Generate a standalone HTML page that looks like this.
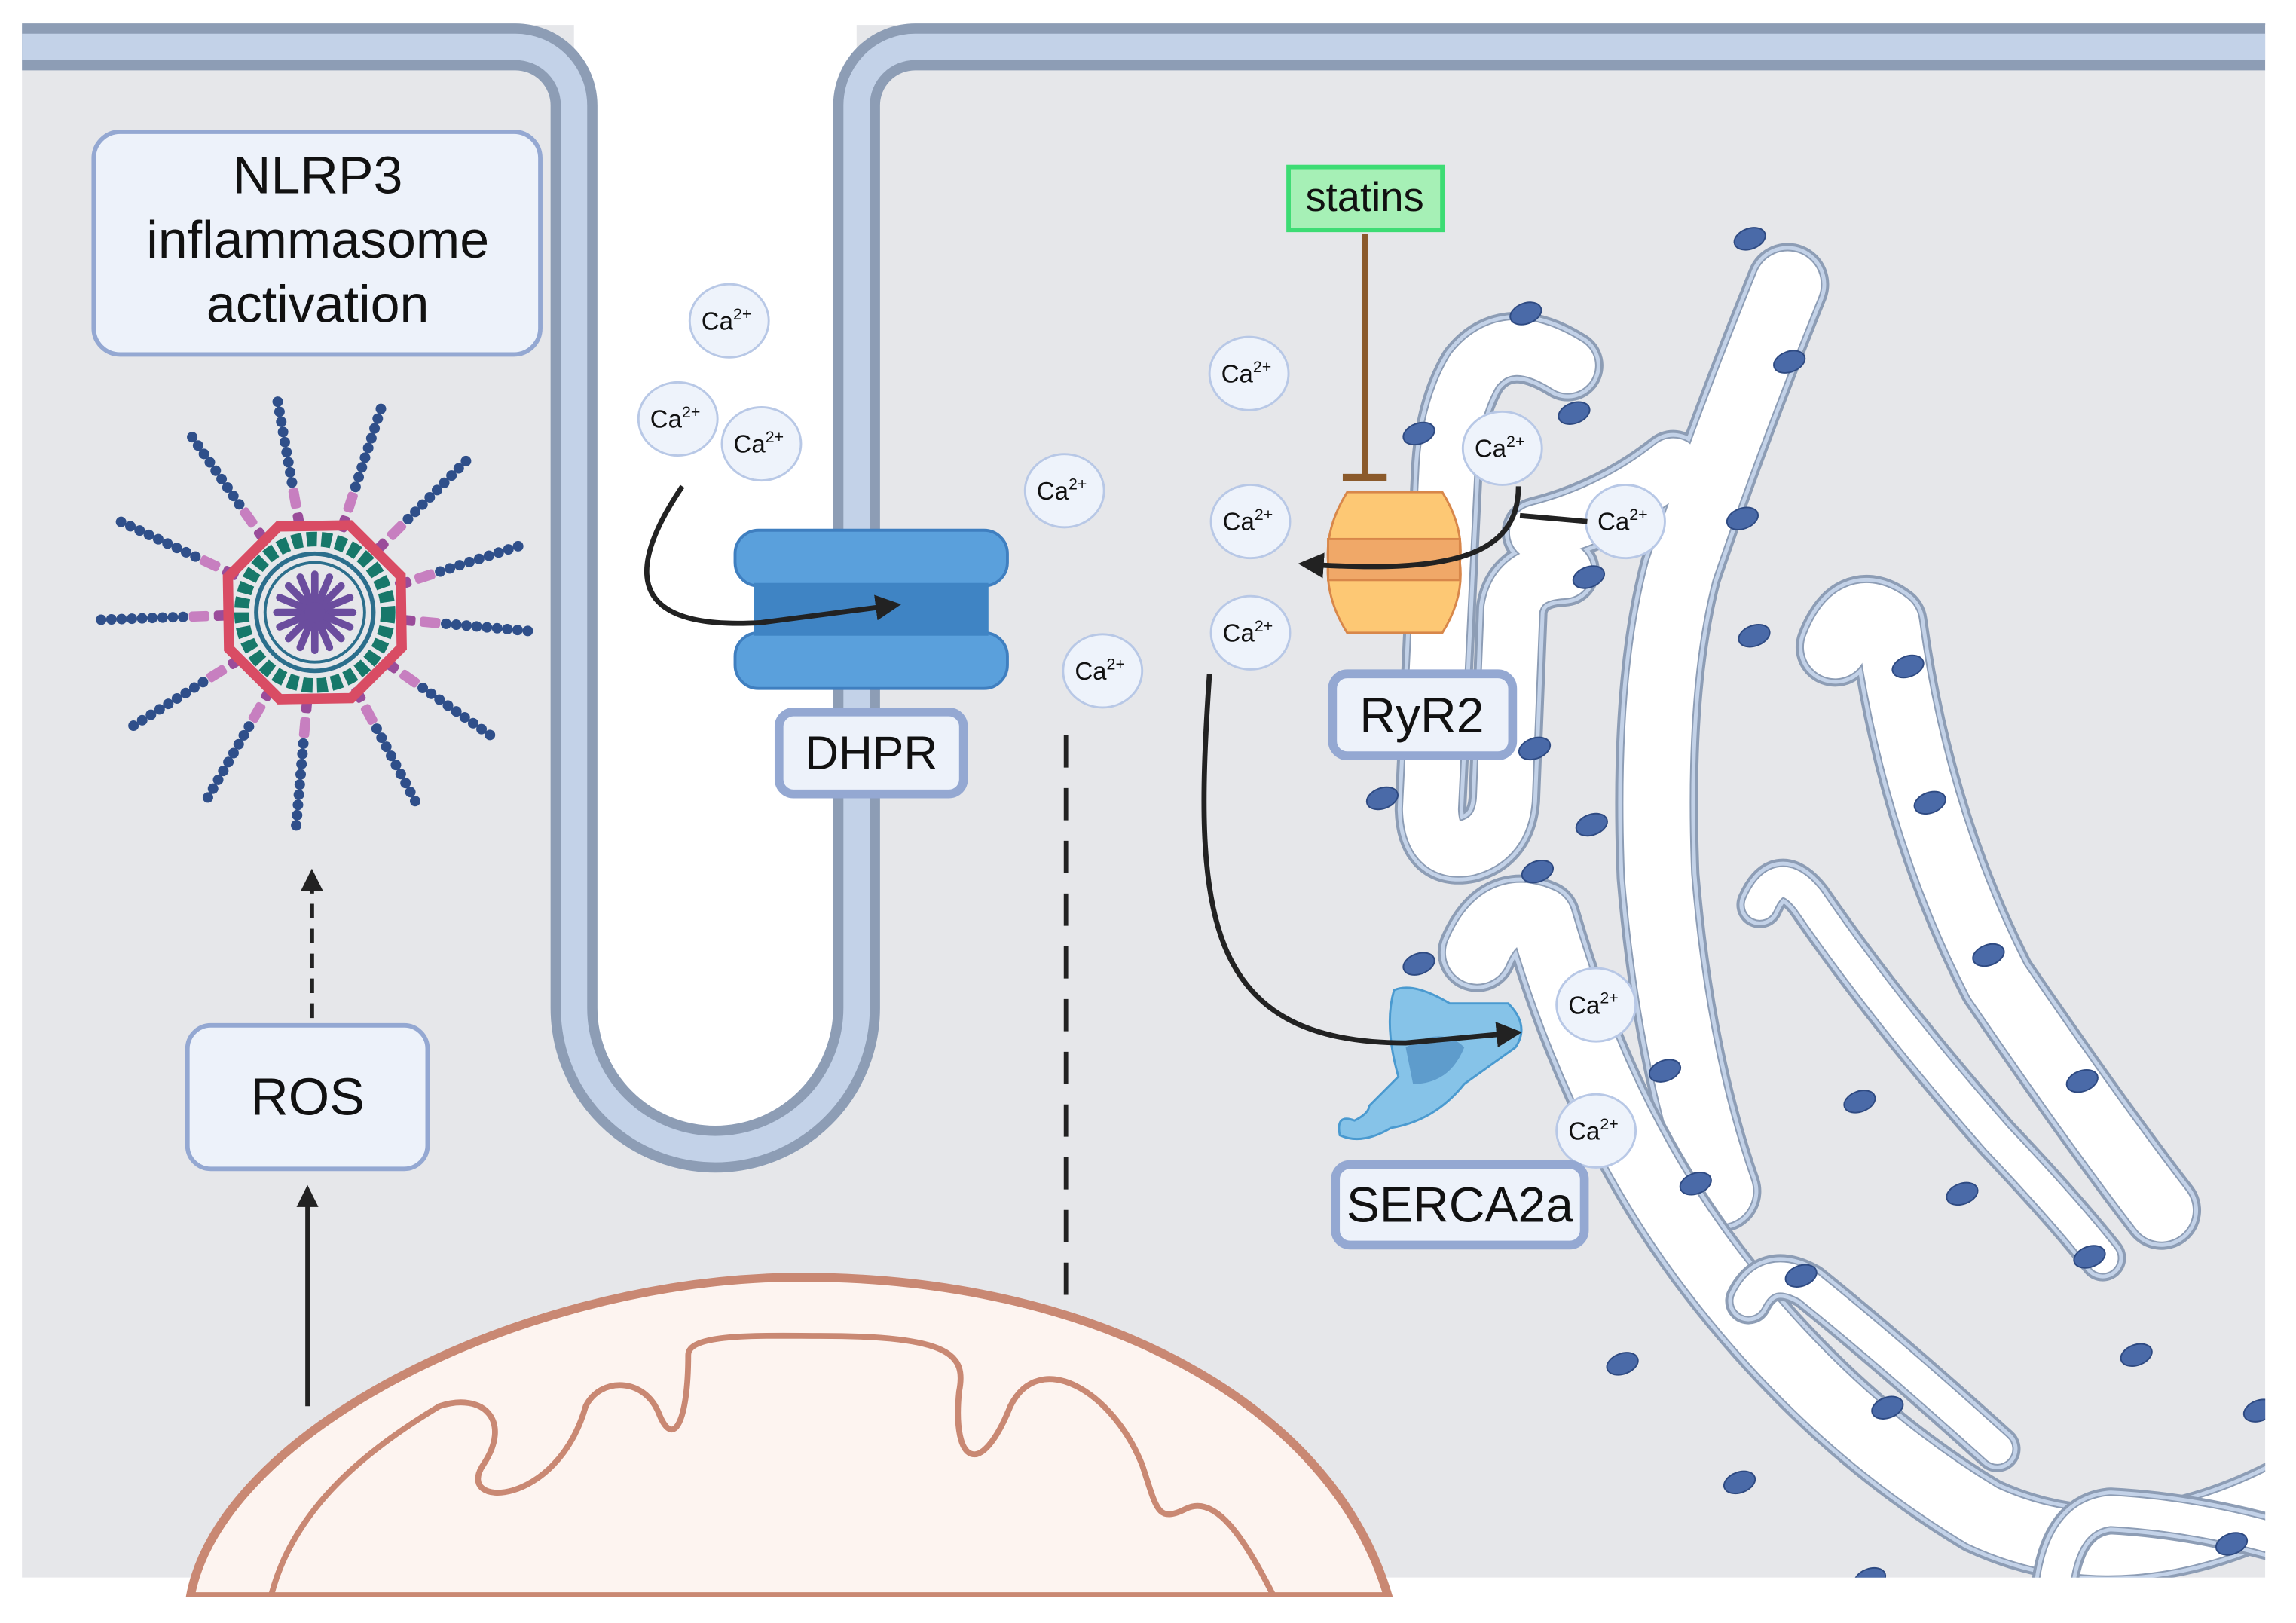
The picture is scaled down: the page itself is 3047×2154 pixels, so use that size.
<!DOCTYPE html>
<html><head><meta charset="utf-8"><style>
html,body{margin:0;padding:0;background:#fff}
svg{display:block}
text{font-family:"Liberation Sans",sans-serif;fill:#111}
</style></head><body>
<svg width="3047" height="2154" viewBox="0 0 1568 1108" preserveAspectRatio="none" xmlns="http://www.w3.org/2000/svg">
<defs>
<marker id="ah" viewBox="0 0 10 10" refX="8" refY="5" markerWidth="5" markerHeight="5" orient="auto-start-reverse"><path d="M0,0L10,5L0,10z" fill="#222"/></marker>
<path id="t1" vector-effect="non-scaling-stroke" d="M580,225 Q500,185 455,230 Q425,270 420,330 L398,690 Q400,738 448,730 Q492,720 496,680 L506,480 Q514,442 575,440"/>
<path id="t2" vector-effect="non-scaling-stroke" d="M872,140 Q790,300 730,440 Q690,560 700,760 Q720,950 782,1090"/>
<path id="t10" vector-effect="non-scaling-stroke" d="M540,400 Q640,380 720,330"/>
<path id="t3" vector-effect="non-scaling-stroke" d="M935,520 Q960,468 1005,495 Q1040,700 1150,870 Q1280,1020 1368,1110"/>
<path id="t5" vector-effect="non-scaling-stroke" d="M460,840 Q490,785 545,805 Q620,1010 760,1160 Q920,1330 1130,1430 Q1320,1500 1545,1405"/>
<path id="t6" vector-effect="non-scaling-stroke" d="M835,790 Q860,745 900,785 Q1000,900 1150,1035 Q1240,1110 1290,1160"/>
<path id="t7" vector-effect="non-scaling-stroke" d="M820,1205 Q845,1165 900,1190 Q1010,1260 1150,1360"/>
<path id="t8" vector-effect="non-scaling-stroke" d="M1225,1510 Q1235,1430 1300,1425 Q1420,1430 1545,1460"/>
<g id="spoke">
<rect x="72" y="-3.5" width="14" height="7" rx="2" fill="#c77fc0"/>
<rect x="58" y="-3.5" width="11" height="7" rx="2" fill="#9a4c9a"/>
<g fill="#2f4f8a"><circle cx="90" cy="0" r="3.6"/><circle cx="97" cy="0" r="3.6"/><circle cx="104" cy="0" r="3.6"/><circle cx="111" cy="0" r="3.6"/><circle cx="118" cy="0" r="3.6"/><circle cx="125" cy="0" r="3.6"/><circle cx="132" cy="0" r="3.6"/><circle cx="139" cy="0" r="3.6"/><circle cx="146" cy="0" r="3.6"/></g>
</g>
</defs>
<rect width="1568" height="1108" fill="#fff"/>
<rect x="15" y="17" width="1532" height="1060" fill="#e6e7ea"/>
<rect x="0" y="0" width="1568" height="17" fill="#fff"/>
<path d="M392,0 V688 A96.5,96.5 0 0 0 585,688 V0 Z" fill="#fff"/>
<path d="M15,32 H352 A40,40 0 0 1 392,72 V688 A96.5,96.5 0 0 0 585,688 V72 A40,40 0 0 1 625,32 H1547" fill="none" stroke="#8d9db5" stroke-width="32"/>
<path d="M15,32 H352 A40,40 0 0 1 392,72 V688 A96.5,96.5 0 0 0 585,688 V72 A40,40 0 0 1 625,32 H1547" fill="none" stroke="#c3d2e8" stroke-width="18"/>

<!-- SR -->
<g transform="scale(0.5147) translate(1500,200) scale(1,1.266)" fill="none" stroke-linecap="round" stroke-linejoin="round">
<g stroke="#8d9db5" stroke-width="95"><use href="#t1"/><use href="#t10"/></g>
<g stroke="#8d9db5" stroke-width="110"><use href="#t2"/></g>
<g stroke="#c3d2e8" stroke-width="87"><use href="#t1"/><use href="#t10"/></g>
<g stroke="#c3d2e8" stroke-width="102"><use href="#t2"/></g>
<g stroke="#8d9db5" stroke-width="77"><use href="#t1"/><use href="#t10"/></g>
<g stroke="#8d9db5" stroke-width="92"><use href="#t2"/></g>
<g stroke="#fff" stroke-width="73"><use href="#t1"/><use href="#t10"/></g>
<g stroke="#fff" stroke-width="88"><use href="#t2"/></g>
<g stroke="#8d9db5" stroke-width="105"><use href="#t3"/><use href="#t5"/></g>
<g stroke="#c3d2e8" stroke-width="97"><use href="#t3"/><use href="#t5"/></g>
<g stroke="#8d9db5" stroke-width="87"><use href="#t3"/><use href="#t5"/></g>
<g stroke="#fff" stroke-width="83"><use href="#t3"/><use href="#t5"/></g>
<g stroke="#8d9db5" stroke-width="62"><use href="#t6"/><use href="#t7"/><use href="#t8"/></g>
<g stroke="#c3d2e8" stroke-width="54"><use href="#t6"/><use href="#t7"/><use href="#t8"/></g>
<g stroke="#8d9db5" stroke-width="44"><use href="#t6"/><use href="#t7"/><use href="#t8"/></g>
<g stroke="#fff" stroke-width="40"><use href="#t6"/><use href="#t7"/><use href="#t8"/></g>
</g>
<g fill="#4a6aa8" stroke="#2e4a82" stroke-width="1">
<ellipse cx="1195" cy="163" rx="11" ry="7" transform="rotate(-20 1195 163)"/><ellipse cx="1042" cy="214" rx="11" ry="7" transform="rotate(-20 1042 214)"/><ellipse cx="1222" cy="247" rx="11" ry="7" transform="rotate(-20 1222 247)"/><ellipse cx="969" cy="296" rx="11" ry="7" transform="rotate(-20 969 296)"/><ellipse cx="1075" cy="282" rx="11" ry="7" transform="rotate(-20 1075 282)"/><ellipse cx="1190" cy="354" rx="11" ry="7" transform="rotate(-20 1190 354)"/><ellipse cx="1085" cy="394" rx="11" ry="7" transform="rotate(-20 1085 394)"/><ellipse cx="1198" cy="434" rx="11" ry="7" transform="rotate(-20 1198 434)"/><ellipse cx="1303" cy="455" rx="11" ry="7" transform="rotate(-20 1303 455)"/><ellipse cx="1048" cy="511" rx="11" ry="7" transform="rotate(-20 1048 511)"/><ellipse cx="944" cy="545" rx="11" ry="7" transform="rotate(-20 944 545)"/><ellipse cx="1087" cy="563" rx="11" ry="7" transform="rotate(-20 1087 563)"/><ellipse cx="1318" cy="548" rx="11" ry="7" transform="rotate(-20 1318 548)"/><ellipse cx="1050" cy="595" rx="11" ry="7" transform="rotate(-20 1050 595)"/><ellipse cx="969" cy="658" rx="11" ry="7" transform="rotate(-20 969 658)"/><ellipse cx="1358" cy="652" rx="11" ry="7" transform="rotate(-20 1358 652)"/><ellipse cx="1137" cy="731" rx="11" ry="7" transform="rotate(-20 1137 731)"/><ellipse cx="1270" cy="752" rx="11" ry="7" transform="rotate(-20 1270 752)"/><ellipse cx="1422" cy="738" rx="11" ry="7" transform="rotate(-20 1422 738)"/><ellipse cx="1158" cy="808" rx="11" ry="7" transform="rotate(-20 1158 808)"/><ellipse cx="1340" cy="815" rx="11" ry="7" transform="rotate(-20 1340 815)"/><ellipse cx="1427" cy="858" rx="11" ry="7" transform="rotate(-20 1427 858)"/><ellipse cx="1230" cy="871" rx="11" ry="7" transform="rotate(-20 1230 871)"/><ellipse cx="1459" cy="925" rx="11" ry="7" transform="rotate(-20 1459 925)"/><ellipse cx="1108" cy="931" rx="11" ry="7" transform="rotate(-20 1108 931)"/><ellipse cx="1289" cy="961" rx="11" ry="7" transform="rotate(-20 1289 961)"/><ellipse cx="1543" cy="963" rx="11" ry="7" transform="rotate(-20 1543 963)"/><ellipse cx="1188" cy="1012" rx="11" ry="7" transform="rotate(-20 1188 1012)"/><ellipse cx="1277" cy="1078" rx="11" ry="7" transform="rotate(-20 1277 1078)"/><ellipse cx="1524" cy="1054" rx="11" ry="7" transform="rotate(-20 1524 1054)"/>
</g>
<rect x="1547" y="17" width="21" height="1091" fill="#fff"/>
<rect x="0" y="1077" width="1568" height="31" fill="#fff"/>

<!-- mitochondrion -->
<path d="M130,1090 C150,980 350,875 540,872 C750,870 910,960 948,1090 Z" fill="#fdf4f0" stroke="#c98873" stroke-width="6"/>
<path d="M185,1090 C200,1030 250,990 300,960 C330,950 350,970 330,1000 C310,1030 380,1030 400,960 C410,940 440,940 450,965 C460,990 470,970 470,925 C470,910 520,912 560,912 C650,912 660,925 655,950 C650,1000 670,1010 690,960 C710,920 760,950 780,1000 C790,1030 790,1040 810,1030 C830,1020 850,1050 870,1090" fill="none" stroke="#c98873" stroke-width="4"/>
<rect x="0" y="1090" width="1568" height="18" fill="#fff"/>

<!-- NLRP3 box -->
<rect x="64" y="90" width="305" height="152" rx="18" fill="#edf2fa" stroke="#94a8d2" stroke-width="3"/>
<text x="217" y="132" font-size="36" text-anchor="middle">NLRP3</text>
<text x="217" y="176" font-size="36" text-anchor="middle">inflammasome</text>
<text x="217" y="220" font-size="36" text-anchor="middle">activation</text>

<!-- inflammasome -->
<g transform="translate(215,418)">
<use href="#spoke" transform="rotate(-100)"/><use href="#spoke" transform="rotate(-72)"/><use href="#spoke" transform="rotate(-45)"/><use href="#spoke" transform="rotate(-18)"/><use href="#spoke" transform="rotate(5)"/><use href="#spoke" transform="rotate(35)"/><use href="#spoke" transform="rotate(62)"/><use href="#spoke" transform="rotate(95)"/><use href="#spoke" transform="rotate(120)"/><use href="#spoke" transform="rotate(148)"/><use href="#spoke" transform="rotate(178)"/><use href="#spoke" transform="rotate(205)"/><use href="#spoke" transform="rotate(235)"/>
<polygon points="64,0 45,45 0,64 -45,45 -64,0 -45,-45 0,-64 45,-45" fill="none" stroke="#d94c64" stroke-width="7" transform="rotate(22)"/>
<circle r="50" fill="none" stroke="#17786a" stroke-width="10" stroke-dasharray="7 3"/>
<circle r="40" fill="#e6e7ea" stroke="#2b6e8c" stroke-width="3"/>
<circle r="34" fill="none" stroke="#2b6e8c" stroke-width="2"/>
<g stroke="#6b4d9e" stroke-width="5" stroke-linecap="round">
<line x1="0" y1="-26" x2="0" y2="26"/><line x1="-26" y1="0" x2="26" y2="0"/><line x1="-18" y1="-18" x2="18" y2="18"/><line x1="-18" y1="18" x2="18" y2="-18"/><line x1="-10" y1="-24" x2="10" y2="24"/><line x1="-24" y1="-10" x2="24" y2="10"/><line x1="-24" y1="10" x2="24" y2="-10"/><line x1="-10" y1="24" x2="10" y2="-24"/>
</g>
<circle r="7" fill="#6b4d9e"/>
</g>

<!-- ROS -->
<line x1="213" y1="695" x2="213" y2="596" stroke="#222" stroke-width="3" stroke-dasharray="10 7" marker-end="url(#ah)"/>
<rect x="128" y="700" width="164" height="98" rx="16" fill="#edf2fa" stroke="#94a8d2" stroke-width="3"/>
<text x="210" y="761" font-size="36" text-anchor="middle">ROS</text>
<line x1="210" y1="960" x2="210" y2="812" stroke="#222" stroke-width="3" marker-end="url(#ah)"/>

<!-- DHPR -->
<rect x="515" y="385" width="160" height="60" fill="#3f84c4"/>
<rect x="502" y="362" width="186" height="38" rx="16" fill="#5aa0dc" stroke="#3f7fc0" stroke-width="2"/>
<rect x="502" y="432" width="186" height="38" rx="16" fill="#5aa0dc" stroke="#3f7fc0" stroke-width="2"/>
<rect x="515" y="398" width="160" height="36" fill="#3f84c4"/>
<path d="M466,332 C420,400 440,430 520,425 L612,413" fill="none" stroke="#222" stroke-width="3.5" marker-end="url(#ah)"/>
<rect x="532" y="486" width="126" height="56" rx="10" fill="#edf2fa" stroke="#94a8d2" stroke-width="6"/>
<text x="595" y="525" font-size="32" text-anchor="middle">DHPR</text>
<line x1="728" y1="502" x2="728" y2="895" stroke="#222" stroke-width="3" stroke-dasharray="22 14"/>

<!-- Ca ions -->
<g font-size="17">
<g><ellipse cx="498" cy="219" rx="27" ry="25" fill="#eef3fb" stroke="#b8c8e6" stroke-width="1.5"/><text x="479" y="225">Ca<tspan font-size="11" dy="-7">2+</tspan></text></g>
<g><ellipse cx="463" cy="286" rx="27" ry="25" fill="#eef3fb" stroke="#b8c8e6" stroke-width="1.5"/><text x="444" y="292">Ca<tspan font-size="11" dy="-7">2+</tspan></text></g>
<g><ellipse cx="520" cy="303" rx="27" ry="25" fill="#eef3fb" stroke="#b8c8e6" stroke-width="1.5"/><text x="501" y="309">Ca<tspan font-size="11" dy="-7">2+</tspan></text></g>
<g><ellipse cx="727" cy="335" rx="27" ry="25" fill="#eef3fb" stroke="#b8c8e6" stroke-width="1.5"/><text x="708" y="341">Ca<tspan font-size="11" dy="-7">2+</tspan></text></g>
<g><ellipse cx="753" cy="458" rx="27" ry="25" fill="#eef3fb" stroke="#b8c8e6" stroke-width="1.5"/><text x="734" y="464">Ca<tspan font-size="11" dy="-7">2+</tspan></text></g>
<g><ellipse cx="853" cy="255" rx="27" ry="25" fill="#eef3fb" stroke="#b8c8e6" stroke-width="1.5"/><text x="834" y="261">Ca<tspan font-size="11" dy="-7">2+</tspan></text></g>
<g><ellipse cx="854" cy="356" rx="27" ry="25" fill="#eef3fb" stroke="#b8c8e6" stroke-width="1.5"/><text x="835" y="362">Ca<tspan font-size="11" dy="-7">2+</tspan></text></g>
<g><ellipse cx="854" cy="432" rx="27" ry="25" fill="#eef3fb" stroke="#b8c8e6" stroke-width="1.5"/><text x="835" y="438">Ca<tspan font-size="11" dy="-7">2+</tspan></text></g>
<g><ellipse cx="1026" cy="306" rx="27" ry="25" fill="#eef3fb" stroke="#b8c8e6" stroke-width="1.5"/><text x="1007" y="312">Ca<tspan font-size="11" dy="-7">2+</tspan></text></g>
<g><ellipse cx="1110" cy="356" rx="27" ry="25" fill="#eef3fb" stroke="#b8c8e6" stroke-width="1.5"/><text x="1091" y="362">Ca<tspan font-size="11" dy="-7">2+</tspan></text></g>
<g><ellipse cx="1090" cy="686" rx="27" ry="25" fill="#eef3fb" stroke="#b8c8e6" stroke-width="1.5"/><text x="1071" y="692">Ca<tspan font-size="11" dy="-7">2+</tspan></text></g>
<g><ellipse cx="1090" cy="772" rx="27" ry="25" fill="#eef3fb" stroke="#b8c8e6" stroke-width="1.5"/><text x="1071" y="778">Ca<tspan font-size="11" dy="-7">2+</tspan></text></g>
</g>

<!-- statins / RyR2 -->
<rect x="880" y="114" width="105" height="43" fill="#a6f0b6" stroke="#3ddc74" stroke-width="3"/>
<text x="932" y="144" font-size="28" text-anchor="middle">statins</text>
<line x1="932" y1="160" x2="932" y2="325" stroke="#8b5a2b" stroke-width="4"/>
<line x1="917" y1="326" x2="947" y2="326" stroke="#8b5a2b" stroke-width="5"/>
<path d="M920,336 H985 Q1000,360 997,384 Q1000,408 985,432 H920 Q905,408 907,384 Q905,360 920,336 Z" fill="#fdc874" stroke="#d8874a" stroke-width="1.5"/>
<rect x="907" y="368" width="90" height="28" fill="#f0a868" stroke="#d8874a" stroke-width="1.5"/>
<line x1="1084" y1="356" x2="1038" y2="352" stroke="#222" stroke-width="3.5"/>
<path d="M1037,332 C1037,380 990,392 890,385" fill="none" stroke="#222" stroke-width="3.5" marker-end="url(#ah)"/>
<rect x="910" y="460" width="123" height="56" rx="10" fill="#edf2fa" stroke="#94a8d2" stroke-width="6"/>
<text x="971" y="500" font-size="34" text-anchor="middle">RyR2</text>

<!-- SERCA -->
<path d="M952,676 Q965,670 990,685 L1030,685 Q1045,700 1035,715 L1000,740 Q980,765 950,770 Q930,782 915,775 Q912,760 925,765 Q935,760 935,755 L955,735 Q945,700 952,676 Z" fill="#86c3e8" stroke="#4a9ad0" stroke-width="1.5"/>
<path d="M960,715 Q985,700 1000,715 Q990,740 965,740 Z" fill="#5e9ccc"/>
<path d="M826,460 C815,620 820,712 960,712 L1036,705" fill="none" stroke="#222" stroke-width="3.5" marker-end="url(#ah)"/>
<rect x="912" y="795" width="170" height="55" rx="10" fill="#edf2fa" stroke="#94a8d2" stroke-width="6"/>
<text x="997" y="834" font-size="34" text-anchor="middle">SERCA2a</text>
</svg>
</body></html>
